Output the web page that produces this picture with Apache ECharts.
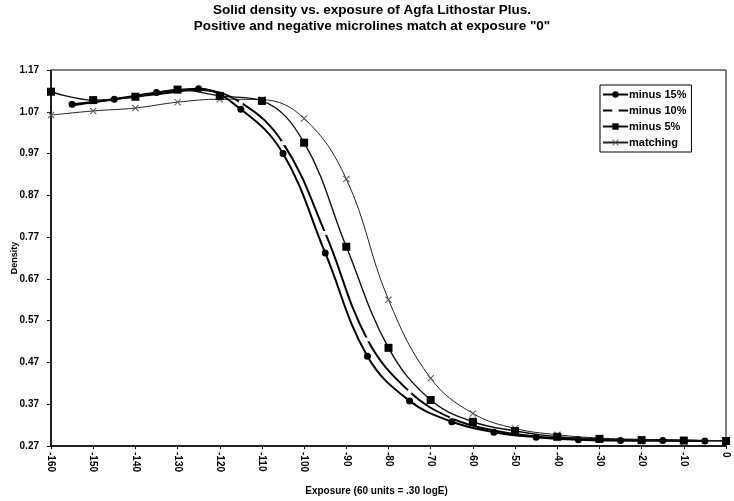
<!DOCTYPE html>
<html>
<head>
<meta charset="utf-8">
<script src="https://cdn.jsdelivr.net/npm/echarts@6/dist/echarts.min.js"></script>
<style>
  html, body { margin: 0; padding: 0; background: #fff; }
  #chart { width: 734px; height: 501px; }
</style>
</head>
<body>
<div id="chart"></div>
<script>
// exposure positions (each series was sampled every 10 units, offset by 5)
const xOdd = [-155, -145, -135, -125, -115, -105, -95, -85, -75, -65, -55, -45, -35, -25, -15, -5];
const xEven = [-160, -150, -140, -130, -120, -110, -100, -90, -80, -70, -60, -50, -40, -30, -20, -10, 0];

const minus15 = [1.088, 1.100, 1.116, 1.125, 1.076, 0.970, 0.732, 0.485, 0.378, 0.328, 0.303, 0.291, 0.285, 0.283, 0.283, 0.282];
const minus10 = [1.085, 1.100, 1.112, 1.122, 1.092, 0.995, 0.780, 0.525, 0.400, 0.336, 0.307, 0.293, 0.287, 0.284, 0.283, 0.282];
const minus5 = [1.118, 1.098, 1.106, 1.123, 1.108, 1.096, 0.996, 0.747, 0.505, 0.380, 0.328, 0.306, 0.292, 0.287, 0.284, 0.283, 0.282];
const matching = [1.062, 1.072, 1.079, 1.093, 1.100, 1.099, 1.054, 0.909, 0.620, 0.432, 0.348, 0.312, 0.297, 0.289, 0.286, 0.284, 0.283];

const seriesNames = ["minus 15%", "minus 10%", "minus 5%", "matching"];

function pairs(xs, ys) {
  return xs.map((x, i) => [x, ys[i]]);
}

const font = "Liberation Sans, Arial, sans-serif";
const xMark = "path://M0,1L1,0L5,4L9,0L10,1L6,5L10,9L9,10L5,6L1,10L0,9L4,5Z";

const option = {
  animation: false,
  backgroundColor: "#fff",
  textStyle: { fontFamily: font, color: "#000" },
  title: {
    text: "Solid density vs. exposure of Agfa Lithostar Plus.\nPositive and negative microlines match at exposure \"0\"",
    left: 367,
    top: -3,
    textAlign: "center",
    textStyle: {
      fontFamily: font,
      fontSize: 13.5,
      fontWeight: "bold",
      lineHeight: 16,
      color: "#000"
    }
  },
  legend: {
    data: seriesNames,
    orient: "vertical",
    left: 600,
    top: 85,
    itemWidth: 25,
    itemHeight: 8,
    itemGap: 5,
    padding: [4, 5, 4, 2],
    borderColor: "#000",
    borderWidth: 1,
    backgroundColor: "#fff",
    textStyle: { fontFamily: font, fontSize: 11, fontWeight: "bold", color: "#000", padding: [0, 0, 0, -4] }
  },
  grid: {
    left: 51,
    right: 8,
    top: 70,
    bottom: 55,
    outerBoundsMode: "none",
    show: true,
    borderColor: "#000",
    borderWidth: 1,
    backgroundColor: "transparent"
  },
  xAxis: {
    type: "value",
    min: -160,
    max: 0,
    interval: 10,
    name: "Exposure (60 units = .30 logE)",
    nameLocation: "middle",
    nameGap: 40,
    nameMoveOverlap: false,
    nameTextStyle: { fontFamily: font, fontSize: 10, fontWeight: "bold", color: "#000", padding: [0, 24, 0, 0] },
    axisLine: { onZero: false, lineStyle: { color: "#000", width: 1.5 } },
    axisTick: { show: true, length: 3, lineStyle: { color: "#000" } },
    axisLabel: {
      rotate: -90,
      margin: 6,
      fontFamily: font,
      fontSize: 10,
      fontWeight: "bold",
      color: "#000"
    },
    splitLine: { show: false }
  },
  yAxis: {
    type: "value",
    min: 0.27,
    max: 1.17,
    interval: 0.1,
    name: "Density",
    nameLocation: "middle",
    nameGap: 32,
    nameMoveOverlap: false,
    nameRotate: 90,
    nameTextStyle: { fontFamily: font, fontSize: 9, fontWeight: "bold", color: "#000" },
    axisLine: { show: true, onZero: false, lineStyle: { color: "#000", width: 1.5 } },
    axisTick: { show: true, length: 4, lineStyle: { color: "#000" } },
    axisLabel: {
      margin: 12,
      fontFamily: font,
      fontSize: 10,
      fontWeight: "bold",
      color: "#000",
      formatter: v => v.toFixed(2)
    },
    splitLine: { show: false }
  },
  series: [
    {
      name: "minus 15%",
      type: "line",
      smooth: 0.4,
      data: pairs(xOdd, minus15),
      symbol: "circle",
      symbolSize: 7,
      showAllSymbol: true,
      lineStyle: { color: "#000", width: 2 },
      itemStyle: { color: "#000" },
      z: 4
    },
    {
      name: "minus 10%",
      type: "line",
      smooth: 0.4,
      data: pairs(xOdd, minus10),
      symbol: "rect",
      symbolSize: 4,
      showAllSymbol: true,
      lineStyle: { color: "#000", width: 2 },
      itemStyle: { color: "#fff" },
      z: 3
    },
    {
      name: "minus 5%",
      type: "line",
      smooth: 0.4,
      data: pairs(xEven, minus5),
      symbol: "rect",
      symbolSize: 8,
      showAllSymbol: true,
      lineStyle: { color: "#111", width: 1.4 },
      itemStyle: { color: "#000" },
      z: 5
    },
    {
      name: "matching",
      type: "line",
      smooth: 0.4,
      data: pairs(xEven, matching),
      symbol: xMark,
      symbolSize: 7,
      showAllSymbol: true,
      lineStyle: { color: "#222", width: 1 },
      itemStyle: { color: "#555" },
      z: 2
    }
  ]
};

const myChart = echarts.init(document.getElementById("chart"), null, { renderer: "canvas" });
myChart.setOption(option);
</script>
</body>
</html>
